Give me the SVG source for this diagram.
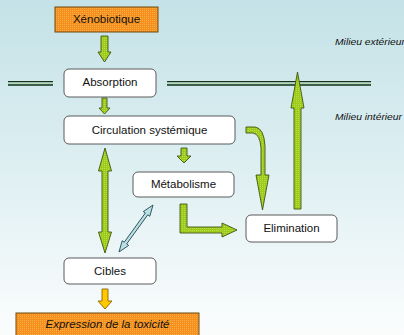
<svg xmlns="http://www.w3.org/2000/svg" width="404" height="335" viewBox="0 0 404 335">
<defs>
<linearGradient id="bg" x1="0" y1="0" x2="0" y2="1">
<stop offset="0" stop-color="#c4e2e7"/>
<stop offset="0.5" stop-color="#deeff2"/>
<stop offset="1" stop-color="#fbfdfd"/>
</linearGradient>
<pattern id="pg" width="2" height="2" patternUnits="userSpaceOnUse">
<rect width="2" height="2" fill="#9ccb18"/>
<rect width="1" height="1" fill="#b9dd4e"/>
</pattern>
<pattern id="po" width="2" height="2" patternUnits="userSpaceOnUse">
<rect width="2" height="2" fill="#f5901c"/>
<rect width="1" height="1" fill="#f9ad48"/>
</pattern>
</defs>
<style>
.box{fill:#ffffff;stroke:#5a5a5a;stroke-width:1}
.obox{fill:url(#po);stroke:#6e4a10;stroke-width:1}
.lbl{font-family:"Liberation Sans",Arial,sans-serif;font-size:11.5px;fill:#111;text-anchor:middle}
.mil{font-family:"Liberation Sans",Arial,sans-serif;font-size:8.5px;font-style:italic;fill:#111}
.ga{fill:url(#pg);stroke:#3e5410;stroke-width:0.9;stroke-linejoin:miter}
.ya{fill:#ffc800;stroke:#8a6400;stroke-width:0.9}
.ba{fill:#b8e0e6;stroke:#34545a;stroke-width:0.9}
.dl{fill:none;stroke:#123016;stroke-width:1.3}
.dm{fill:none;stroke:#a8d4ae;stroke-width:1}
</style>
<rect width="404" height="335" fill="url(#bg)"/>

<g id="membrane">
<path class="dl" d="M8,81.7 H53 M8,85 H53 M167,81.7 H371 M167,85 H371"/>
<path class="dm" d="M8,83.35 H53 M167,83.35 H371"/>
</g>

<g id="labels">
<text class="mil" x="335" y="45" textLength="70" lengthAdjust="spacingAndGlyphs">Milieu extérieur</text>
<text class="mil" x="335" y="120" textLength="67" lengthAdjust="spacingAndGlyphs">Milieu intérieur</text>
</g>

<g id="connectors">
<polygon class="ga" points="101,36 108,36 108,52 111,52 104.5,62 98,52 101,52"/>
<polygon class="ga" points="102,98 107,98 107,108 110,108 104.5,114 99,108 102,108"/>
<polygon class="ga" points="181,148 187,148 187,156 191,156 184,163 177,156 181,156"/>
<path class="ga" d="M246,127 L255,127 Q264,128 265,146 L265,175 L269,175 L262.5,210 L256,175 L261,175 L261,148 Q260,134 253,133 L246,133 Z"/>
<polygon class="ga" points="294,209 301,209 301,108 304,108 297.5,72 291,108 294,108"/>
<polygon class="ga" points="105,148 111.5,171 108,171 108,232 111.5,232 105,253 98.5,232 102,232 102,171 98.5,171"/>
<polygon class="ba" transform="translate(153,205) rotate(125.9)" points="0,0 11,-4 11,-1.5 47,-1.5 47,-4 58,0 47,4 47,1.5 11,1.5 11,4"/>
<path class="ga" d="M180,204 L187,204 L187,227 L222,227 L222,223 L237,230 L222,237 L222,233 L180,233 Z"/>
<polygon class="ya" points="102,289 108,289 108,301 112,301 105,309 98,301 102,301"/>
</g>

<g id="xenobiotique">
<rect class="obox" x="55" y="7" width="103" height="25"/>
<text class="lbl" x="106.5" y="23">Xénobiotique</text>
</g>
<g id="absorption">
<rect class="box" x="64" y="69" width="92" height="28" rx="5"/>
<text class="lbl" x="110" y="86">Absorption</text>
</g>
<g id="circulation">
<rect class="box" x="64" y="116" width="171" height="28" rx="5"/>
<text class="lbl" x="149.5" y="134">Circulation systémique</text>
</g>
<g id="metabolisme">
<rect class="box" x="133" y="172" width="101" height="25" rx="5"/>
<text class="lbl" x="183.5" y="188">Métabolisme</text>
</g>
<g id="elimination">
<rect class="box" x="246" y="215" width="91" height="27" rx="5"/>
<text class="lbl" x="291.5" y="232">Elimination</text>
</g>
<g id="cibles">
<rect class="box" x="64" y="258" width="92" height="26" rx="5"/>
<text class="lbl" x="110" y="275">Cibles</text>
</g>
<g id="expression">
<rect class="obox" x="16" y="313" width="183" height="25"/>
<text class="lbl" x="107.5" y="328" font-style="italic">Expression de la toxicité</text>
</g>
</svg>
